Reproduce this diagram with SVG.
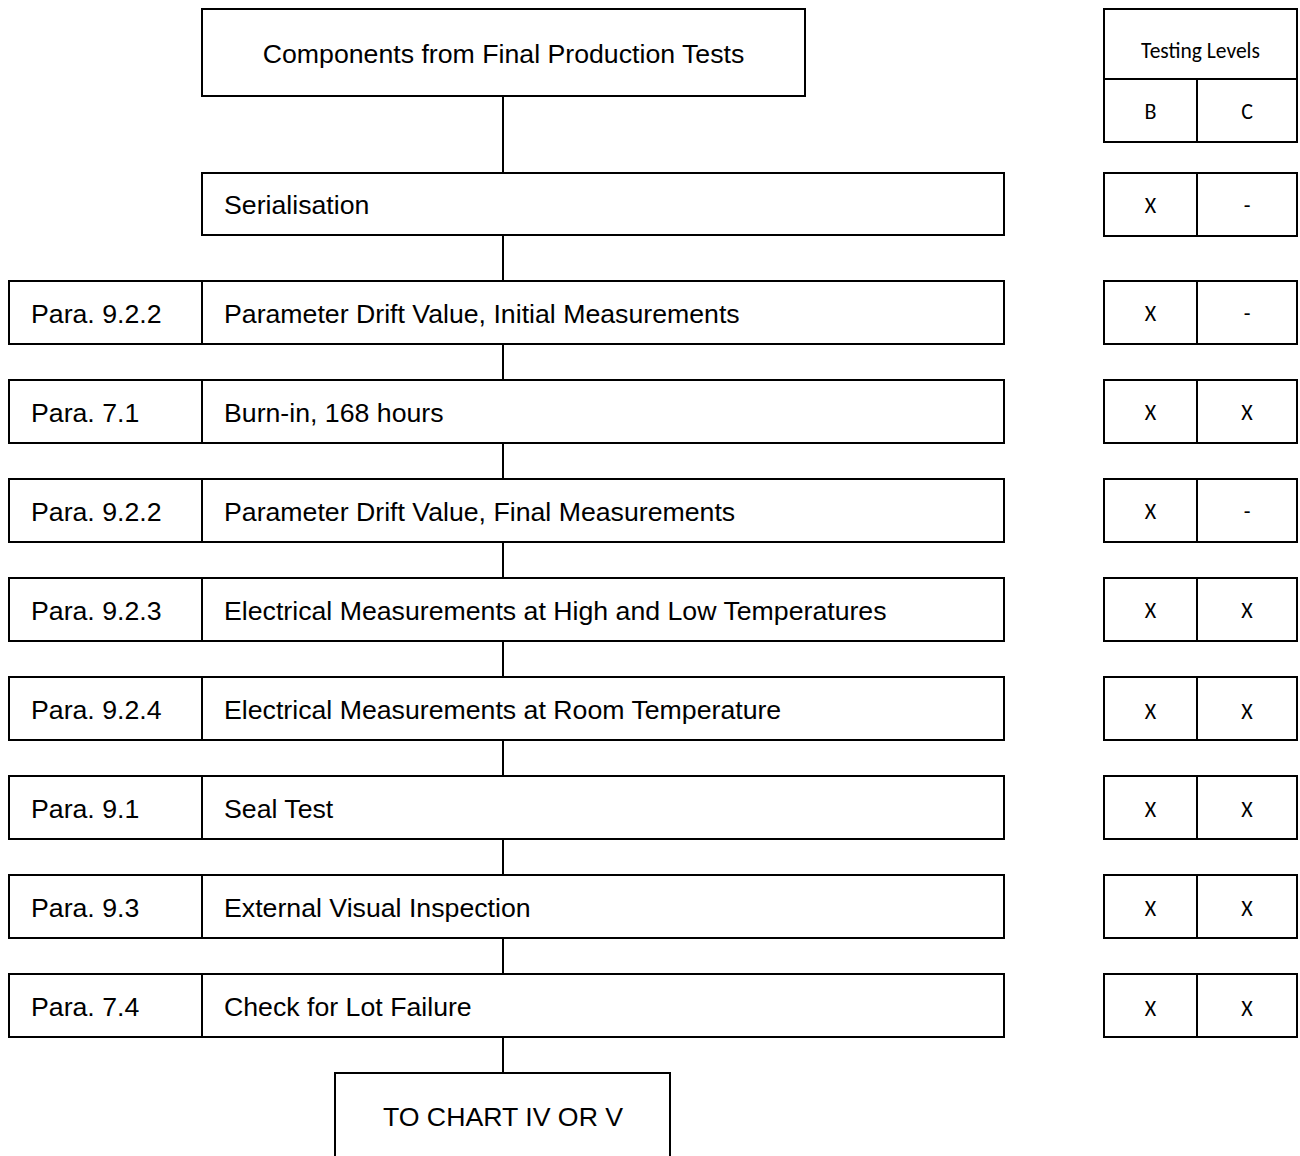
<svg xmlns="http://www.w3.org/2000/svg" width="1300" height="1156" viewBox="0 0 1300 1156">
<style>
rect{fill:#fff;stroke:#000;stroke-width:2}
line{stroke:#000;stroke-width:2}
.t{font-family:"Liberation Sans",Arial,sans-serif;font-size:26.7px;fill:#000}
.c{font-family:Carlito,Lato,"Open Sans",sans-serif;font-size:22px;fill:#000;text-anchor:middle}
.h{font-family:Carlito,Lato,"Open Sans",sans-serif;font-size:21.5px;fill:#000;text-anchor:middle}
</style>
<rect width="1300" height="1156" style="fill:#fff;stroke:none"/>
<g id="connectors">
<line x1="503" y1="96" x2="503" y2="173"/>
<line x1="503" y1="235" x2="503" y2="281"/>
<line x1="503" y1="344" x2="503" y2="380"/>
<line x1="503" y1="443" x2="503" y2="479"/>
<line x1="503" y1="542" x2="503" y2="578"/>
<line x1="503" y1="641" x2="503" y2="677"/>
<line x1="503" y1="740" x2="503" y2="776"/>
<line x1="503" y1="839" x2="503" y2="875"/>
<line x1="503" y1="938" x2="503" y2="974"/>
<line x1="503" y1="1037" x2="503" y2="1073"/>
</g>
<g id="start"><rect x="202" y="9" width="603" height="87"/><text class="t" x="503.5" y="62.5" text-anchor="middle">Components from Final Production Tests</text></g>
<g id="serialisation"><rect x="202" y="173" width="802" height="62"/><text class="t" x="224" y="213.5">Serialisation</text></g>
<g id="step1"><rect x="9" y="281" width="193" height="63"/><rect x="202" y="281" width="802" height="63"/><text class="t" x="31" y="322.5">Para. 9.2.2</text><text class="t" x="224" y="322.5">Parameter Drift Value, Initial Measurements</text></g>
<g id="step2"><rect x="9" y="380" width="193" height="63"/><rect x="202" y="380" width="802" height="63"/><text class="t" x="31" y="421.5">Para. 7.1</text><text class="t" x="224" y="421.5">Burn-in, 168 hours</text></g>
<g id="step3"><rect x="9" y="479" width="193" height="63"/><rect x="202" y="479" width="802" height="63"/><text class="t" x="31" y="520.5">Para. 9.2.2</text><text class="t" x="224" y="520.5">Parameter Drift Value, Final Measurements</text></g>
<g id="step4"><rect x="9" y="578" width="193" height="63"/><rect x="202" y="578" width="802" height="63"/><text class="t" x="31" y="619.5">Para. 9.2.3</text><text class="t" x="224" y="619.5">Electrical Measurements at High and Low Temperatures</text></g>
<g id="step5"><rect x="9" y="677" width="193" height="63"/><rect x="202" y="677" width="802" height="63"/><text class="t" x="31" y="718.5">Para. 9.2.4</text><text class="t" x="224" y="718.5">Electrical Measurements at Room Temperature</text></g>
<g id="step6"><rect x="9" y="776" width="193" height="63"/><rect x="202" y="776" width="802" height="63"/><text class="t" x="31" y="817.5">Para. 9.1</text><text class="t" x="224" y="817.5">Seal Test</text></g>
<g id="step7"><rect x="9" y="875" width="193" height="63"/><rect x="202" y="875" width="802" height="63"/><text class="t" x="31" y="916.5">Para. 9.3</text><text class="t" x="224" y="916.5">External Visual Inspection</text></g>
<g id="step8"><rect x="9" y="974" width="193" height="63"/><rect x="202" y="974" width="802" height="63"/><text class="t" x="31" y="1015.5">Para. 7.4</text><text class="t" x="224" y="1015.5">Check for Lot Failure</text></g>
<g id="end"><rect x="335" y="1073" width="335" height="100"/><text class="t" x="503" y="1125.5" text-anchor="middle">TO CHART IV OR V</text></g>
<g id="levels-header"><rect x="1104" y="9" width="193" height="70"/><text class="h" x="1200.5" y="58">Testing Levels</text><rect x="1104" y="79" width="93" height="63"/><rect x="1197" y="79" width="100" height="63"/><text class="c" x="1150.5" y="119">B</text><text class="c" x="1247" y="119">C</text></g>
<g id="lv0"><rect x="1104" y="173" width="93" height="63"/><rect x="1197" y="173" width="100" height="63"/><text class="c" x="1150.5" y="213">X</text><text class="c" x="1247" y="213">-</text></g>
<g id="lv1"><rect x="1104" y="281" width="93" height="63"/><rect x="1197" y="281" width="100" height="63"/><text class="c" x="1150.5" y="321">X</text><text class="c" x="1247" y="321">-</text></g>
<g id="lv2"><rect x="1104" y="380" width="93" height="63"/><rect x="1197" y="380" width="100" height="63"/><text class="c" x="1150.5" y="420">X</text><text class="c" x="1247" y="420">X</text></g>
<g id="lv3"><rect x="1104" y="479" width="93" height="63"/><rect x="1197" y="479" width="100" height="63"/><text class="c" x="1150.5" y="519">X</text><text class="c" x="1247" y="519">-</text></g>
<g id="lv4"><rect x="1104" y="578" width="93" height="63"/><rect x="1197" y="578" width="100" height="63"/><text class="c" x="1150.5" y="618">X</text><text class="c" x="1247" y="618">X</text></g>
<g id="lv5"><rect x="1104" y="677" width="93" height="63"/><rect x="1197" y="677" width="100" height="63"/><text class="c" x="1150.5" y="719">X</text><text class="c" x="1247" y="719">X</text></g>
<g id="lv6"><rect x="1104" y="776" width="93" height="63"/><rect x="1197" y="776" width="100" height="63"/><text class="c" x="1150.5" y="817">X</text><text class="c" x="1247" y="817">X</text></g>
<g id="lv7"><rect x="1104" y="875" width="93" height="63"/><rect x="1197" y="875" width="100" height="63"/><text class="c" x="1150.5" y="916">X</text><text class="c" x="1247" y="916">X</text></g>
<g id="lv8"><rect x="1104" y="974" width="93" height="63"/><rect x="1197" y="974" width="100" height="63"/><text class="c" x="1150.5" y="1016">X</text><text class="c" x="1247" y="1016">X</text></g>
</svg>
